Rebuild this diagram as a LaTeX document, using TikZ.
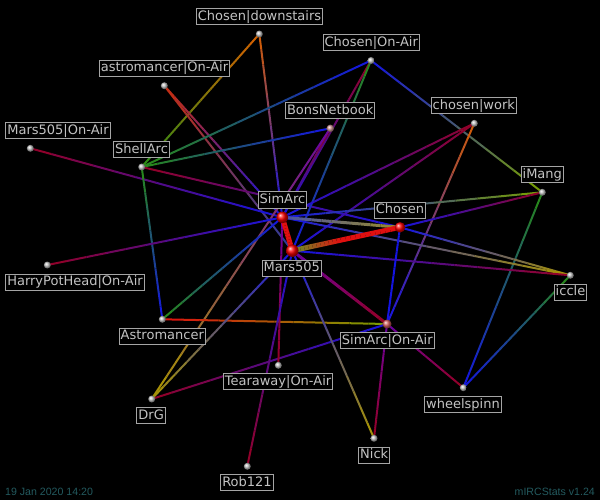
\documentclass[tikz,border=0pt]{standalone}
\usepackage{fontspec}
\newfontfamily\labfont{DejaVu Sans}
\newfontfamily\footfont{Liberation Sans}
\usetikzlibrary{calc}
\pgfdeclarelayer{bg}
\pgfsetlayers{bg,main}
\definecolor{cR}{RGB}{150,0,35}
\definecolor{cRo}{RGB}{200,45,15}
\definecolor{cRR}{RGB}{225,15,15}
\definecolor{cO}{RGB}{215,95,0}
\definecolor{cY}{RGB}{170,150,0}
\definecolor{cYG}{RGB}{120,160,0}
\definecolor{cG}{RGB}{40,140,20}
\definecolor{cB}{RGB}{20,20,225}
\definecolor{cP}{RGB}{105,0,165}
\definecolor{cBl}{RGB}{70,80,170}
\definecolor{cBg}{RGB}{40,60,160}
\definecolor{cOl}{RGB}{155,140,40}
\definecolor{cGo}{RGB}{100,150,40}
\definecolor{txtgray}{RGB}{195,195,195}
\definecolor{labgray}{RGB}{165,165,165}
\definecolor{ballgray}{RGB}{200,200,200}
\definecolor{ballpink}{RGB}{215,95,95}
\definecolor{ballrose}{RGB}{210,150,150}
\definecolor{footcol}{RGB}{35,90,95}
\newcommand\gline[5][2]{%
  \foreach \k in {0,...,11}{%
    \pgfmathsetmacro\ta{\k/12}%
    \pgfmathsetmacro\tb{(\k+1)/12}%
    \pgfmathtruncatemacro\pc{100-(\k+0.5)*100/12}%
    \draw[line width=#1pt, color=#4!\pc!#5] ($(#2)!\ta!(#3)$) -- ($(#2)!\tb!(#3)$);
  }%
}
\tikzset{
  gdot/.style={circle, minimum size=7pt, inner sep=0pt, shading=ball, ball color=ballgray},
  rdot/.style={circle, inner sep=0pt, shading=ball, ball color=red},
  lab/.style={draw=labgray, fill=black, text=txtgray, line width=1pt,
    font={\labfont\fontsize{13}{15}\selectfont}, inner xsep=1.5pt, inner ysep=1.9pt,
    text height=9.6pt, text depth=2.6pt},
  foot/.style={text=footcol, font={\footfont\fontsize{10.6}{12}\selectfont}, inner sep=0pt}
}
\begin{document}
\begin{tikzpicture}[x=1pt,y=-1pt]
\useasboundingbox (0,0) rectangle (600,500);
% dots
\node[gdot] (cd) at (259.3,34) {};
\node[gdot] (co) at (371,60.5) {};
\node[gdot] (ao) at (164.3,85.7) {};
\node[circle, minimum size=7.5pt, inner sep=0pt, shading=ball, ball color=ballrose] (bn) at (330.3,128.3) {};
\node[gdot] (cw) at (474.3,123.3) {};
\node[gdot] (mo) at (30.3,148.3) {};
\node[gdot] (sh) at (141.7,167) {};
\node[gdot] (im) at (542.3,192.3) {};
\node[rdot, minimum size=11.5pt] (sa) at (282.3,217.3) {};
\node[rdot, minimum size=10.5pt] (ch) at (400,227.3) {};
\node[rdot, minimum size=12.5pt] (ma) at (292.3,250.7) {};
\node[gdot] (ho) at (47.3,265) {};
\node[gdot] (ic) at (570.3,275.3) {};
\node[gdot] (as) at (162.3,319.3) {};
\node[circle, minimum size=9pt, inner sep=0pt, shading=ball, ball color=ballpink] (so) at (387,324) {};
\node[gdot] (tw) at (278.3,365.3) {};
\node[gdot] (dg) at (151.7,399) {};
\node[gdot] (ws) at (463.3,387.7) {};
\node[gdot] (ni) at (374,438.3) {};
\node[gdot] (rb) at (247.3,466.3) {};
\coordinate (mc) at ($(ma)!0.45!(ch)$);
% labels
\node[lab] (lcd) at (259.5,17) {Chosen|downstairs};
\node[lab] (lco) at (371.2,42.8) {Chosen|On-Air};
\node[lab] (lao) at (164.5,68.3) {astromancer|On-Air};
\node[lab] (lbn) at (330.2,110.8) {BonsNetbook};
\node[lab] (lcw) at (473.8,106) {chosen|work};
\node[lab] (lmo) at (58,130.8) {Mars505|On-Air};
\node[lab] (lsh) at (141.5,150) {ShellArc};
\node[lab] (lim) at (542.3,175) {iMang};
\node[lab] (lsa) at (282.5,200) {SimArc};
\node[lab] (lch) at (400,210) {Chosen};
\node[lab] (lma) at (291.8,268.3) {Mars505};
\node[lab] (lho) at (75,282) {HarryPotHead|On-Air};
\node[lab] (lic) at (570.5,292) {iccle};
\node[lab] (las) at (162.3,336) {Astromancer};
\node[lab] (lso) at (387.3,340.8) {SimArc|On-Air};
\node[lab] (ltw) at (278,381.8) {Tearaway|On-Air};
\node[lab] (ldg) at (151.2,415.8) {DrG};
\node[lab] (lws) at (463,404.7) {wheelspinn};
\node[lab] (lni) at (374.2,455.3) {Nick};
\node[lab] (lrb) at (247,482.8) {Rob121};
\node[foot, anchor=base west] (stamp) at (5,495) {19 Jan 2020 14:20};
\node[foot, anchor=base east] (ver) at (595,495) {mIRCStats v1.24};
\begin{pgfonlayer}{bg}
\fill[black] (0,0) rectangle (600,500);
\gline{cd}{sh}{cO}{cG}
\gline{cd}{sa}{cO}{cB}
\gline{ao}{sa}{cRo}{cB}
\gline{ao}{ma}{cRo}{cBg}
\gline{mo}{sa}{cR}{cB}
\gline{sh}{co}{cG}{cB}
\gline{sh}{bn}{cG}{cB}
\gline{sh}{ch}{cR}{cB}
\gline{sh}{as}{cG}{cB}
\gline{co}{sa}{cR}{cB}
\gline{co}{ma}{cG}{cB}
\gline{co}{im}{cB}{cYG}
\gline{bn}{sa}{cR}{cB}
\gline{bn}{dg}{cP}{cY}
\gline{cw}{sa}{cR}{cB}
\gline{cw}{ma}{cR}{cB}
\gline{cw}{so}{cO}{cB}
\gline{im}{sa}{cYG}{cB}
\gline{im}{ch}{cR}{cB}
\gline{im}{ws}{cG}{cB}
\gline{ic}{ch}{cY}{cB}
\gline{ic}{sa}{cY}{cB}
\gline{ic}{ma}{cR}{cB}
\gline{ic}{ws}{cG}{cB}
\gline{so}{ws}{cP}{cR}
\gline{ch}{so}{cB}{cB}
\gline{as}{so}{cRR}{cYG}
\gline{dg}{so}{cR}{cB}
\gline{so}{ni}{cP}{cR}
\gline{ma}{ni}{cB}{cY}
\gline{sa}{tw}{cP}{cR}
\gline{ma}{rb}{cB}{cR}
\gline{dg}{ma}{cY}{cB}
\gline{as}{sa}{cG}{cB}
\gline{ho}{sa}{cR}{cB}
\gline[3]{ma}{so}{cP}{cR}
\gline[3]{sa}{ch}{cBl}{cOl}
\gline[5]{ma}{mc}{cGo}{cRR}
\gline[5]{mc}{ch}{cRR}{cRR}
\gline[5]{ma}{sa}{cRR}{cRR}
\end{pgfonlayer}
\end{tikzpicture}
\end{document}
